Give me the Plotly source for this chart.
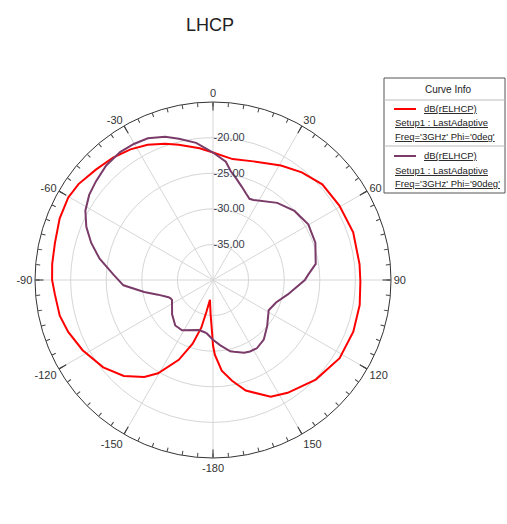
import plotly.graph_objects as go

# ---- data ----
red_theta = [-179.3, -176.1, -171.2, -168.3, -166.2, -162.3, -156.8, -149.5, -144.7, -137.1,
             -128.5, -118.3, -109.7, -103.1, -95.2, -90.0, -84.3, -76.8, -68.2, -60.3,
             -54.5, -46.7, -39.2, -32.3, -25.8, -19.4, -14.2, -5.8, 0.0, 9.2,
             18.8, 30.7, 39.5, 48.8, 59.5, 71.2, 83.8, 90.6, 99.7, 110.2,
             121.7, 134.1, 146.5, 153.7, 163.5, 169.3, 174.5, 178.6, 180.0]
red_db = [-32.2, -35.1, -37.2, -35.4, -33.1, -30.6, -27.8, -24.8, -23.3, -21.6,
          -20.3, -19.2, -18.4, -17.9, -17.7, -17.4, -17.3, -17.2, -16.8, -16.6,
          -16.8, -17.4, -17.8, -18.3, -18.9, -19.7, -20.4, -21.4, -22.1, -22.8,
          -22.4, -21.3, -20.4, -19.6, -19.4, -19.2, -19.3, -19.3, -19.1, -19.0,
          -19.1, -19.9, -21.0, -21.7, -23.8, -25.6, -27.2, -29.5, -30.8]

purple_theta = [-172.9, -164.5, -148.4, -140.3, -130.0, -115.9, -113.4, -111.2, -104.9, -99.9,
                -93.4, -86.9, -79.4, -73.0, -67.2, -61.5, -55.5, -49.9, -43.0, -36.0,
                -30.2, -24.7, -18.5, -13.6, -7.0, 0.0, 6.2, 9.2, 12.6, 17.2,
                20.9, 24.2, 26.9, 39.8, 49.7, 59.7, 70.0, 81.1, 86.8, 90.0,
                100.9, 109.6, 118.5, 130.5, 139.6, 147.3, 152.6, 156.8, 163.7, 166.4,
                173.9, 180.0]
purple_db = [-32.5, -32.7, -31.7, -31.7, -32.5, -33.6, -33.5, -33.3, -32.0, -30.2,
             -27.4, -26.0, -23.8, -22.1, -20.7, -19.6, -18.9, -18.5, -18.0, -17.8,
             -17.9, -18.1, -18.8, -19.6, -20.6, -22.1, -23.3, -24.5, -25.3, -26.3,
             -27.0, -27.5, -27.4, -25.9, -25.0, -24.5, -24.7, -25.4, -26.6, -27.1,
             -29.3, -30.6, -31.1, -30.0, -29.0, -28.6, -28.7, -28.9, -29.5, -29.7,
             -30.8, -31.6]

angle_ticks = [0, 30, 60, 90, 120, 150, 180, 210, 240, 270, 300, 330]
angle_labels = ["0", "30", "60", "90", "120", "150", "-180", "-150", "-120", "-90", "-60", "-30"]
minor_angle_ticks = list(range(0, 360, 5))
radial_ticks = [-35, -30, -25, -20]
radial_labels = ["-35.00", "-30.00", "-25.00", "-20.00"]
radial_range = [-40, -15]

legend_names = ["dB(rELHCP)", "dB(rELHCP)"]
legend_setup = ["Setup1 : LastAdaptive", "Setup1 : LastAdaptive"]
legend_freq = ["Freq='3GHz' Phi='0deg'", "Freq='3GHz' Phi='90deg'"]
colors = ["#ff0000", "#7b3b69"]

# ---- layout geometry (pixels) ----
W, H = 507, 524
cx, cy, R = 213, 280, 178
FONT = "Liberation Sans, Arial, sans-serif"

def px(x):
    return x / W

def py(y):
    return 1 - y / H

dom_x = [px(cx - R), px(cx + R)]
dom_y = [py(cy + R), py(cy - R)]

fig = go.Figure()
fig.add_trace(go.Scatterpolar(
    r=red_db + red_db[:1], theta=red_theta + red_theta[:1], mode="lines",
    line=dict(color=colors[0], width=2), name=legend_names[0] + " Phi='0deg'",
    showlegend=False, subplot="polar"))
fig.add_trace(go.Scatterpolar(
    r=purple_db + purple_db[:1], theta=purple_theta + purple_theta[:1], mode="lines",
    line=dict(color=colors[1], width=2), name=legend_names[1] + " Phi='90deg'",
    showlegend=False, subplot="polar"))
# invisible anchor for the minor-tick overlay subplot
fig.add_trace(go.Scatterpolar(r=[radial_range[0]], theta=[0], mode="markers",
                              marker=dict(opacity=0), hoverinfo="skip",
                              showlegend=False, subplot="polar2"))

grid_col = "#d6d6d6"
fig.update_layout(
    width=W, height=H,
    margin=dict(l=0, r=0, t=0, b=0),
    paper_bgcolor="white",
    font=dict(family=FONT, color="#333333", size=11),
    title=dict(text="LHCP", x=px(210), y=py(25), xanchor="center", yanchor="middle",
               font=dict(family=FONT, size=18, color="#222222")),
    polar=dict(
        domain=dict(x=dom_x, y=dom_y),
        bgcolor="white",
        radialaxis=dict(range=radial_range, tickmode="array", tickvals=radial_ticks,
                        ticktext=radial_labels, angle=90, tickangle=90, side="clockwise",
                        showline=False, ticks="", gridcolor=grid_col, gridwidth=1,
                        tickfont=dict(size=11, color="#3a3a4a")),
        angularaxis=dict(rotation=90, direction="clockwise", tickmode="array",
                         tickvals=angle_ticks, ticktext=angle_labels,
                         showline=True, linecolor="#333333", linewidth=1,
                         ticks="inside", ticklen=8, tickcolor="#333333",
                         gridcolor=grid_col, gridwidth=1,
                         tickfont=dict(size=11, color="#333333")),
    ),
    polar2=dict(
        domain=dict(x=dom_x, y=dom_y),
        bgcolor="rgba(0,0,0,0)",
        radialaxis=dict(range=radial_range, visible=False),
        angularaxis=dict(rotation=90, direction="clockwise", tickmode="array",
                         tickvals=minor_angle_ticks, showticklabels=False,
                         showline=False, showgrid=False,
                         ticks="inside", ticklen=4, tickcolor="#444444"),
    ),
)

# ---- "Curve Info" box (built from shapes + text) ----
bx0, by0, bx1, by1 = 384, 78, 505, 193
shapes = [
    dict(type="rect", xref="paper", yref="paper", x0=px(bx0), x1=px(bx1), y0=py(by1), y1=py(by0),
         line=dict(color="#555555", width=1), fillcolor="white"),
    dict(type="line", xref="paper", yref="paper", x0=px(bx0), x1=px(bx1), y0=py(100), y1=py(100),
         line=dict(color="#bbbbbb", width=1)),
    dict(type="line", xref="paper", yref="paper", x0=px(bx0), x1=px(bx1), y0=py(146), y1=py(146),
         line=dict(color="#bbbbbb", width=1)),
]
annotations = [dict(text="Curve Info", x=px(448), y=py(89), xref="paper", yref="paper",
                    showarrow=False, xanchor="center", yanchor="middle",
                    font=dict(family=FONT, size=10, color="#222222"))]
row_y = [109, 156]
for i in range(2):
    y0 = row_y[i]
    shapes.append(dict(type="line", xref="paper", yref="paper", x0=px(394), x1=px(416),
                       y0=py(y0), y1=py(y0), line=dict(color=colors[i], width=2)))
    lines = [(422, y0, legend_names[i]), (393, y0 + 14, legend_setup[i]), (393, y0 + 27.5, legend_freq[i])]
    for (lx, ly, t) in lines:
        annotations.append(dict(
            text='<span style="text-decoration:underline">' + t + '</span>',
            x=px(lx), y=py(ly), xref="paper", yref="paper", showarrow=False,
            xanchor="left", yanchor="middle", align="left",
            font=dict(family=FONT, size=9.5, color="#222222")))
fig.update_layout(shapes=shapes, annotations=annotations)

fig.write_html("out.html", config={"displayModeBar": False},
               post_script="document.body.style.margin='0px';")
